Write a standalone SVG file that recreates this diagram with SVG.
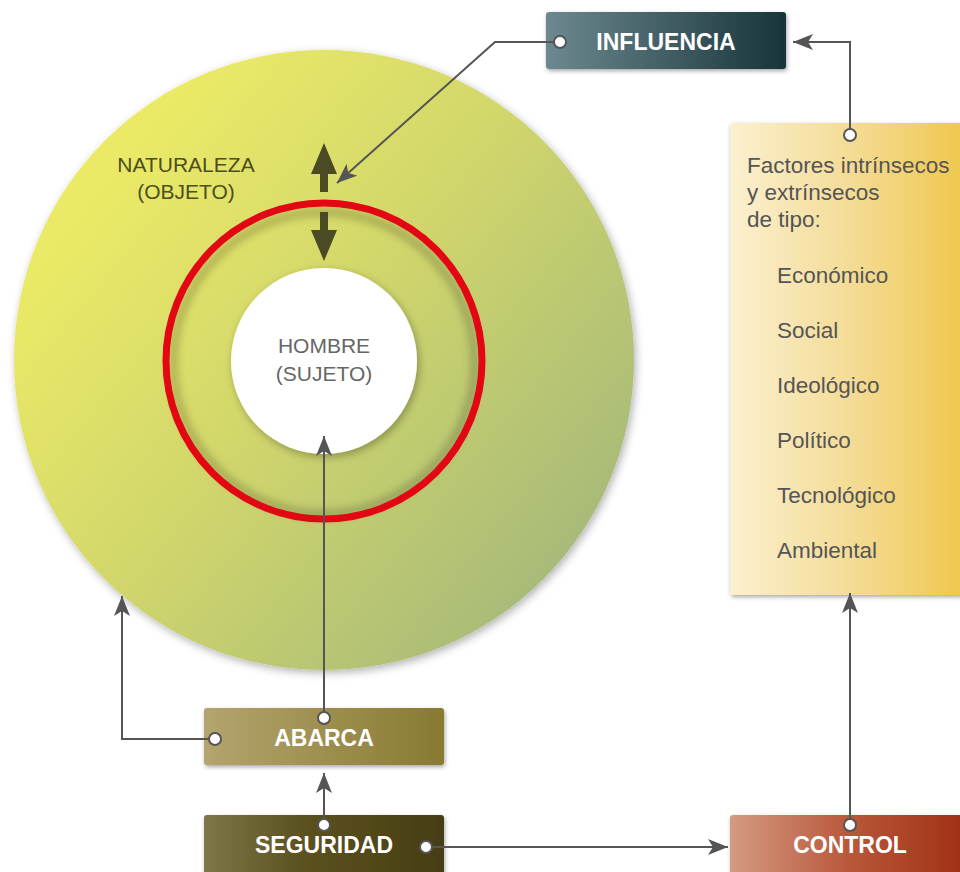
<svg xmlns="http://www.w3.org/2000/svg" width="960" height="872" viewBox="0 0 960 872">
<defs>
<linearGradient id="gBig" x1="0.15" y1="0.2" x2="0.95" y2="0.85">
<stop offset="0" stop-color="#ebea66"/><stop offset="0.45" stop-color="#cfd56c"/><stop offset="1" stop-color="#a3b77a"/>
</linearGradient>
<linearGradient id="gInf" x1="0" x2="1"><stop offset="0" stop-color="#6d8890"/><stop offset="1" stop-color="#17343a"/></linearGradient>
<linearGradient id="gFac" x1="0" x2="1"><stop offset="0" stop-color="#fbf0d0"/><stop offset="0.5" stop-color="#f4dc96"/><stop offset="1" stop-color="#efc64a"/></linearGradient>
<linearGradient id="gAba" x1="0" x2="1"><stop offset="0" stop-color="#b4a46e"/><stop offset="1" stop-color="#887a32"/></linearGradient>
<linearGradient id="gSeg" x1="0" x2="1"><stop offset="0" stop-color="#7f7648"/><stop offset="0.4" stop-color="#5c5220"/><stop offset="1" stop-color="#463d12"/></linearGradient>
<linearGradient id="gCon" x1="0" x2="1"><stop offset="0" stop-color="#d49b82"/><stop offset="0.5" stop-color="#b8573a"/><stop offset="1" stop-color="#a02e14"/></linearGradient>
<filter id="sh" x="-20%" y="-20%" width="140%" height="140%"><feDropShadow dx="1" dy="2" stdDeviation="2" flood-color="#000" flood-opacity="0.35"/></filter>
<filter id="shc" x="-20%" y="-20%" width="140%" height="140%"><feDropShadow dx="2" dy="3" stdDeviation="4" flood-color="#000" flood-opacity="0.3"/></filter>
<filter id="blur4"><feGaussianBlur stdDeviation="4"/></filter>
<marker id="ah" viewBox="0 0 20 16" refX="20" refY="8" markerWidth="20" markerHeight="16" markerUnits="userSpaceOnUse" orient="auto">
<path d="M0,0 L20,8 L0,16 L5,8 Z" fill="#555"/>
</marker>
</defs>
<style>
.lbl{font-family:"Liberation Sans",Arial,sans-serif;font-weight:bold;font-size:23px;fill:#fff;text-anchor:middle}
.txt{font-family:"Liberation Sans",Arial,sans-serif;font-size:22.5px;fill:#555}
.nat{font-family:"Liberation Sans",Arial,sans-serif;font-size:21px;fill:#4f4d20;text-anchor:middle}
.hom{font-family:"Liberation Sans",Arial,sans-serif;font-size:21px;fill:#666;text-anchor:middle}
.ln{fill:none;stroke:#555;stroke-width:2}
.dot{fill:#fff;stroke:#555;stroke-width:2}
</style>
<g id="naturaleza">
<circle cx="324" cy="360" r="310" fill="url(#gBig)" filter="url(#shc)"/>
<text class="nat" x="186" y="172">NATURALEZA</text>
<text class="nat" x="186" y="199">(OBJETO)</text>
</g>
<g id="anillo">
<circle cx="324" cy="363" r="151" fill="none" stroke="#000" stroke-opacity="0.25" stroke-width="7" filter="url(#blur4)"/>
<circle cx="324" cy="361" r="158" fill="none" stroke="#e30613" stroke-width="7"/>
</g>
<g id="hombre">
<circle cx="324" cy="361" r="93" fill="#fff" filter="url(#shc)"/>
<text class="hom" x="324" y="353">HOMBRE</text>
<text class="hom" x="324" y="381">(SUJETO)</text>
</g>
<g id="flechas-dobles" fill="#4a4a24">
<path d="M324,143 L337,174 L328,174 L328,192 L320,192 L320,174 L311,174 Z"/>
<path d="M324,261 L337,230 L328,230 L328,212 L320,212 L320,230 L311,230 Z"/>
</g>
<g id="influencia">
<rect x="546" y="12" width="240" height="57" rx="3" fill="url(#gInf)" filter="url(#sh)"/>
<text class="lbl" x="666" y="50">INFLUENCIA</text>
</g>
<g id="factores">
<rect x="730" y="123" width="240" height="472" rx="3" fill="url(#gFac)" filter="url(#sh)"/>
<text class="txt" x="747" y="173">Factores intrínsecos</text>
<text class="txt" x="747" y="200">y extrínsecos</text>
<text class="txt" x="747" y="227">de tipo:</text>
<text class="txt" x="777" y="283">Económico</text>
<text class="txt" x="777" y="338">Social</text>
<text class="txt" x="777" y="393">Ideológico</text>
<text class="txt" x="777" y="448">Político</text>
<text class="txt" x="777" y="503">Tecnológico</text>
<text class="txt" x="777" y="558">Ambiental</text>
</g>
<g id="abarca">
<rect x="204" y="708" width="240" height="57" rx="3" fill="url(#gAba)" filter="url(#sh)"/>
<text class="lbl" x="324" y="746">ABARCA</text>
</g>
<g id="seguridad">
<rect x="204" y="815" width="240" height="62" rx="3" fill="url(#gSeg)" filter="url(#sh)"/>
<text class="lbl" x="324" y="853">SEGURIDAD</text>
</g>
<g id="control">
<rect x="730" y="815" width="240" height="62" rx="3" fill="url(#gCon)" filter="url(#sh)"/>
<text class="lbl" x="850" y="853">CONTROL</text>
</g>
<g id="conectores">
<polyline class="ln" points="560,42 495,42 337,183" marker-end="url(#ah)"/>
<polyline class="ln" points="850,135 850,42 793,42" marker-end="url(#ah)"/>
<line class="ln" x1="850" y1="825" x2="850" y2="593" marker-end="url(#ah)"/>
<line class="ln" x1="426" y1="847" x2="728" y2="847" marker-end="url(#ah)"/>
<line class="ln" x1="324" y1="825" x2="324" y2="773" marker-end="url(#ah)"/>
<line class="ln" x1="324" y1="718" x2="324" y2="436" marker-end="url(#ah)"/>
<polyline class="ln" points="215,739 122,739 122,596" marker-end="url(#ah)"/>
<circle class="dot" cx="560" cy="42" r="6"/>
<circle class="dot" cx="850" cy="135" r="6"/>
<circle class="dot" cx="850" cy="825" r="6"/>
<circle class="dot" cx="426" cy="847" r="6"/>
<circle class="dot" cx="324" cy="825" r="6"/>
<circle class="dot" cx="324" cy="718" r="6"/>
<circle class="dot" cx="215" cy="739" r="6"/>
</g>
</svg>
